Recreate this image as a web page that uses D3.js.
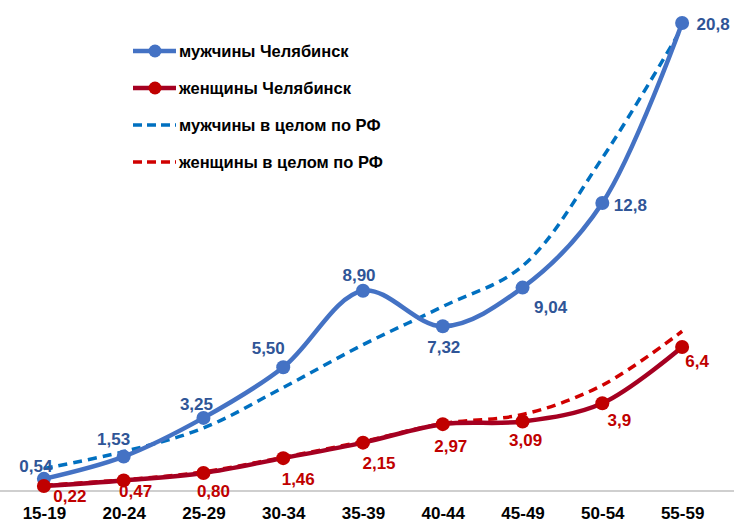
<!DOCTYPE html>
<html>
<head>
<meta charset="utf-8">
<script src="https://cdn.jsdelivr.net/npm/d3@7"></script>
<style>
  body { margin: 0; background: #fff; }
  svg { display: block; font-family: Arial, "Liberation Sans", sans-serif; }
</style>
</head>
<body>
<div id="chart"></div>
<script>
const width = 734;
const height = 522;

// data
const ages = ["15-19", "20-24", "25-29", "30-34", "35-39", "40-44", "45-49", "50-54", "55-59"];
const menChel = [0.54, 1.53, 3.25, 5.50, 8.90, 7.32, 9.04, 12.8, 20.8];
const womenChel = [0.22, 0.47, 0.80, 1.46, 2.15, 2.97, 3.09, 3.9, 6.4];
const menRF = [1.0, 1.75, 2.8, 4.6, 6.5, 8.2, 10.0, 14.8, 20.6];
const womenRF = [0.25, 0.5, 0.85, 1.5, 2.2, 3.0, 3.4, 4.7, 7.1];
const menLabels = ["0,54", "1,53", "3,25", "5,50", "8,90", "7,32", "9,04", "12,8", "20,8"];
const womenLabels = ["0,22", "0,47", "0,80", "1,46", "2,15", "2,97", "3,09", "3,9", "6,4"];

// label nudges from each point, [dx, dy] to the text baseline centre
const menNudge = [[-8, -7], [-10, -12], [-7, -8], [-15, -13], [-4, -10], [1, 27], [28, 25], [28, 8], [31, 7]];
const womenNudge = [[26, 16], [12, 17], [10, 24], [15, 27], [16, 26], [8, 28], [3, 25], [17, 23], [15, 20]];

const x = d3.scalePoint().domain(ages).range([4, 722]).padding(0.5);
const y = d3.scaleLinear().domain([0, 20.8]).range([491, 23]);

const svg = d3.select("#chart").append("svg")
  .attr("width", width)
  .attr("height", height);

// axis
const xAxis = svg.append("g")
  .attr("transform", "translate(0," + y(0) + ")")
  .call(d3.axisBottom(x).tickSize(0).tickPadding(16));
xAxis.select(".domain").remove();
xAxis.append("line")
  .attr("x1", 0).attr("x2", width)
  .attr("stroke", "#BFBFBF").attr("stroke-width", 1.5);
xAxis.selectAll("text")
  .attr("font-size", "17px")
  .attr("font-weight", "bold")
  .attr("fill", "#000")
  .attr("font-family", "Arial, 'Liberation Sans', sans-serif");

const line = d3.line()
  .x((d, i) => x(ages[i]))
  .y(d => y(d))
  .curve(d3.curveCatmullRom.alpha(0.5));

const series = [
  { name: "мужчины в целом по РФ", values: menRF, color: "#0070C0", dash: "9,6", width: 3.5 },
  { name: "женщины в целом по РФ", values: womenRF, color: "#D00000", dash: "9,6", width: 3.5 },
  { name: "мужчины Челябинск", values: menChel, color: "#4472C4", marker: "#4472C4", width: 4.5 },
  { name: "женщины Челябинск", values: womenChel, color: "#A50021", marker: "#C00000", width: 4.5 }
];

series.forEach(s => {
  svg.append("path")
    .datum(s.values)
    .attr("d", line)
    .attr("fill", "none")
    .attr("stroke", s.color)
    .attr("stroke-width", s.width)
    .attr("stroke-dasharray", s.dash || null);
  if (s.marker) {
    svg.append("g").selectAll("circle")
      .data(s.values)
      .enter().append("circle")
      .attr("cx", (d, i) => x(ages[i]))
      .attr("cy", d => y(d))
      .attr("r", 7)
      .attr("fill", s.marker);
  }
});

function drawLabels(values, labels, nudge, color) {
  svg.append("g").selectAll("text")
    .data(values)
    .enter().append("text")
    .attr("x", (d, i) => x(ages[i]) + nudge[i][0])
    .attr("y", (d, i) => y(d) + nudge[i][1])
    .attr("text-anchor", "middle")
    .attr("font-size", "17px")
    .attr("font-weight", "bold")
    .attr("fill", color)
    .text((d, i) => labels[i]);
}
drawLabels(menChel, menLabels, menNudge, "#2F5597");
drawLabels(womenChel, womenLabels, womenNudge, "#C00000");

// legend
const legendItems = [series[2], series[3], series[0], series[1]];
const legend = svg.append("g").attr("transform", "translate(133,51)");
legendItems.forEach((s, i) => {
  const g = legend.append("g").attr("transform", "translate(0," + (i * 37) + ")");
  g.append("line")
    .attr("x1", 0).attr("x2", 43)
    .attr("stroke", s.color)
    .attr("stroke-width", s.width)
    .attr("stroke-dasharray", s.dash ? "9,5" : null);
  if (s.marker) {
    g.append("circle").attr("cx", 22).attr("r", 6.5).attr("fill", s.marker);
  }
  g.append("text")
    .attr("x", 46).attr("y", 6)
    .attr("font-size", "16.5px")
    .attr("font-weight", "bold")
    .attr("fill", "#000")
    .text(s.name);
});
</script>
</body>
</html>
